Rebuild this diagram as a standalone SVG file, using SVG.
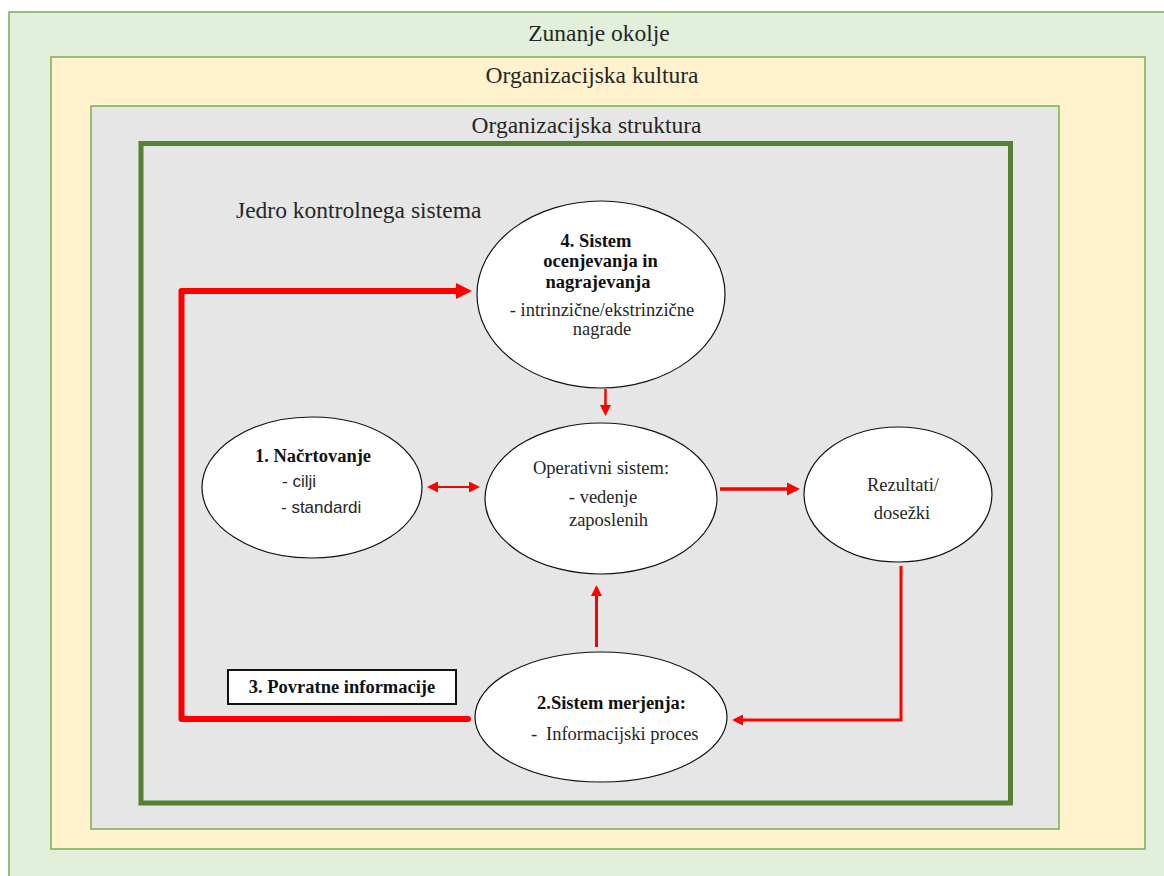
<svg xmlns="http://www.w3.org/2000/svg" width="1164" height="876" viewBox="0 0 1164 876">
<style>
.frame{stroke:#7DB35A;stroke-width:1.6}
.title{font-family:"Liberation Serif",serif;font-size:23.5px;fill:#262626;text-anchor:middle}
.node{fill:#fff;stroke:#111;stroke-width:1.2}
.t{font-family:"Liberation Serif",serif;font-size:18.5px;fill:#262626}
.b{font-weight:bold;fill:#111}
.m{text-anchor:middle}
.s{font-family:"Liberation Sans",sans-serif;font-size:17px;fill:#262626}
.c{fill:none;stroke:#FF0000}
</style>
<defs>
<marker id="mBig" viewBox="0 0 10 10" refX="0" refY="5" markerWidth="16" markerHeight="16" markerUnits="userSpaceOnUse" orient="auto-start-reverse"><path d="M0,0 L10,5 L0,10 z" fill="#FF0000"/></marker>
<marker id="mMed" viewBox="0 0 10 10" refX="0" refY="5" markerWidth="13" markerHeight="14" markerUnits="userSpaceOnUse" orient="auto-start-reverse"><path d="M0,0 L10,5 L0,10 z" fill="#FF0000"/></marker>
<marker id="mSm" viewBox="0 0 10 10" refX="0" refY="5" markerWidth="13" markerHeight="11" markerUnits="userSpaceOnUse" orient="auto-start-reverse"><path d="M0,0 L10,5 L0,10 z" fill="#FF0000"/></marker>
<marker id="mUp" viewBox="0 0 10 10" refX="0" refY="5" markerWidth="20" markerHeight="11" markerUnits="userSpaceOnUse" orient="auto-start-reverse"><path d="M0,0 L10,5 L0,10 z" fill="#FF0000"/></marker>
</defs>
<rect width="1164" height="876" fill="#fff"/>
<g id="zunanje-okolje">
<rect class="frame" x="9" y="12" width="1170" height="880" fill="#E2EFDA"/>
<text class="title" x="599" y="41">Zunanje okolje</text>
</g>
<g id="organizacijska-kultura">
<rect class="frame" x="51" y="57" width="1094" height="792" fill="#FFF2CC"/>
<text class="title" x="592" y="83">Organizacijska kultura</text>
</g>
<g id="organizacijska-struktura">
<rect class="frame" x="91" y="106" width="968" height="723" fill="#E6E6E6"/>
<text class="title" x="586.5" y="133">Organizacijska struktura</text>
</g>
<g id="jedro">
<rect x="141" y="143.5" width="869.5" height="659.5" fill="#E6E6E6" stroke="#548235" stroke-width="5"/>
<text class="title" x="236" y="218" style="text-anchor:start">Jedro kontrolnega sistema</text>
</g>
<g id="connectors">
<path class="c" d="M468 719 H181.5 V291 H456" stroke-width="6" stroke-linejoin="round" stroke-linecap="round" marker-end="url(#mBig)"/>
<path class="c" d="M605.5 389 V405" stroke-width="2.5" marker-end="url(#mSm)"/>
<path class="c" d="M438 487 H469" stroke-width="2" marker-start="url(#mSm)" marker-end="url(#mSm)"/>
<path class="c" d="M720 489 H787" stroke-width="3.5" marker-end="url(#mMed)"/>
<path class="c" d="M901 566 V720 H743" stroke-width="3" marker-end="url(#mSm)"/>
<path class="c" d="M596.5 647 V596" stroke-width="3" marker-end="url(#mUp)"/>
</g>
<g id="node-4">
<ellipse class="node" cx="601" cy="294.5" rx="124" ry="93.5"/>
<text class="t b m" x="596" y="247">4. Sistem</text>
<text class="t b m" x="600.5" y="267">ocenjevanja in</text>
<text class="t b m" x="598" y="288">nagrajevanja</text>
<text class="t m" x="602" y="316">- intrinzične/ekstrinzične</text>
<text class="t m" x="602" y="335">nagrade</text>
</g>
<g id="node-1">
<ellipse class="node" cx="312" cy="487.5" rx="110" ry="70.5"/>
<text class="t b m" x="313" y="462">1. Načrtovanje</text>
<text class="s" x="282" y="487">- cilji</text>
<text class="s" x="281" y="513">- standardi</text>
</g>
<g id="node-operativni">
<ellipse class="node" cx="601" cy="498.5" rx="116" ry="75.5"/>
<text class="t m" x="601" y="474">Operativni sistem:</text>
<text class="t m" x="603" y="503">- vedenje</text>
<text class="t m" x="608.5" y="526">zaposlenih</text>
</g>
<g id="node-rezultati">
<ellipse class="node" cx="898" cy="494.5" rx="94" ry="67.5"/>
<text class="t m" x="903" y="491">Rezultati/</text>
<text class="t m" x="902" y="519">dosežki</text>
</g>
<g id="node-2">
<ellipse class="node" cx="601" cy="717" rx="126" ry="65"/>
<text class="t b" x="537" y="709">2.Sistem merjenja:</text>
<text class="t" x="531" y="740">-</text>
<text class="t" x="546" y="740">Informacijski proces</text>
</g>
<g id="node-3">
<rect x="228" y="670" width="228" height="34" fill="#fff" stroke="#111" stroke-width="2"/>
<text class="t b m" x="342" y="693">3. Povratne informacije</text>
</g>
</svg>
